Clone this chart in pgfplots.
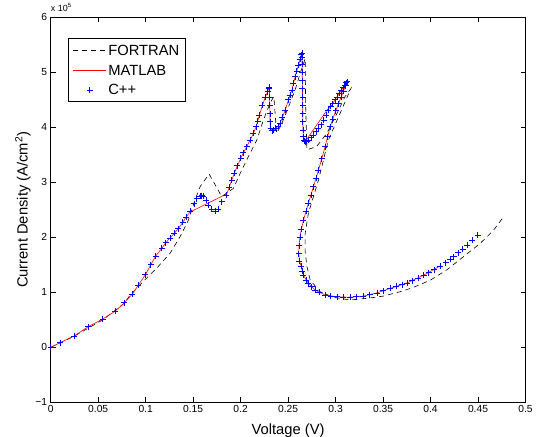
\documentclass[border=0pt]{standalone}
\usepackage{fontspec}
\setmainfont{Liberation Sans}
\usepackage{pgfplots}
\pgfplotsset{compat=1.18}
\begin{document}
\begin{tikzpicture}[x=1bp,y=1bp]
\begin{axis}[
  at={(0,0)}, anchor=south west,
  scale only axis, width=474.8bp, height=385bp,
  xmin=0, xmax=0.5, ymin=-1, ymax=6,
  xtick={0,0.05,0.1,0.15,0.2,0.25,0.3,0.35,0.4,0.45,0.5},
  xticklabels={0,0.05,0.1,0.15,0.2,0.25,0.3,0.35,0.4,0.45,0.5},
  ytick={-1,0,1,2,3,4,5,6},
  yticklabels={−1,0,1,2,3,4,5,6},
  tick align=inside, major tick length=5bp,
  tick style={black, line width=0.6bp},
  axis line style={line width=0.9bp},
  tick label style={font=\fontsize{10.3}{12}\selectfont},
  xlabel={Voltage (V)},
  ylabel={Current Density (A/cm\textsuperscript{2})},
  label style={font=\fontsize{14.8}{17}\selectfont},
  xlabel style={at={(axis description cs:0.5,-0.0738)}, anchor=center},
  ylabel style={at={(axis description cs:-0.0583,0.5)}, anchor=center},
  legend image code/.code={\draw[mark repeat=2,mark phase=2,#1] plot coordinates {(0bp,0bp) (16.5bp,0bp) (33bp,0bp)};},
  legend style={at={(axis description cs:0.0371,0.9455)}, anchor=north west,
    draw=black, line width=0.8bp, inner xsep=4bp, inner ysep=2bp,
    font=\fontsize{14.8}{17}\selectfont,
    nodes={text height=12bp, text depth=2bp, inner xsep=2bp, inner ysep=2.85bp},
    cells={anchor=west}, row sep=0bp},
]
\addplot[black, line width=0.6bp, dash pattern=on 5bp off 4bp] coordinates {
(0,0) (0.0246,0.20) (0.0548,0.50) (0.0776,0.80) (0.0836,0.95) (0.0976,1.20)
(0.1117,1.44) (0.1257,1.71) (0.1362,2.01) (0.145,2.31) (0.152,2.68) (0.1573,2.92)
(0.1668,3.15) (0.175,2.90) (0.180,2.74) (0.1924,2.89) (0.1995,3.16) (0.2082,3.47)
(0.2171,3.77) (0.224,4.13) (0.231,4.44) (0.2350,4.56) (0.2365,4.20) (0.2380,3.89)
(0.2434,4.07) (0.2504,4.37) (0.2574,4.68) (0.2627,4.98) (0.2680,5.25) (0.2685,4.40)
(0.2698,3.59) (0.2800,3.65) (0.2908,3.89) (0.3014,4.25) (0.3100,4.56) (0.3160,4.70)
(0.2925,3.77) (0.289,3.53) (0.282,3.04) (0.2767,2.74) (0.2714,2.44) (0.268,2.07)
(0.268,1.74) (0.2698,1.47) (0.2733,1.22) (0.2838,1.01) (0.2978,0.91) (0.3154,0.86)
(0.333,0.89) (0.350,0.93) (0.368,1.01) (0.382,1.09) (0.3997,1.22) (0.4173,1.41)
(0.4348,1.65) (0.4524,1.89) (0.4664,2.13) (0.4777,2.39)
};
\addlegendentry{FORTRAN}
\addplot[red, line width=0.6bp] coordinates {
(0,0) (0.0098,0.084) (0.0246,0.205) (0.0396,0.375) (0.0548,0.515) (0.0678,0.655)
(0.0776,0.81) (0.086,0.97) (0.0923,1.13) (0.0997,1.32) (0.1054,1.50) (0.1106,1.66)
(0.117,1.80) (0.1212,1.90) (0.1257,1.99) (0.130,2.07) (0.1345,2.16) (0.139,2.27)
(0.1426,2.37) (0.1468,2.46) (0.1855,2.79) (0.188,2.91) (0.1907,3.04) (0.1935,3.17)
(0.1966,3.30) (0.2002,3.44) (0.203,3.54) (0.2065,3.65) (0.210,3.77) (0.2135,3.89)
(0.2163,4.01) (0.2198,4.22) (0.2230,4.40) (0.2260,4.55) (0.2285,4.65) (0.2303,4.73)
(0.2310,4.10) (0.2315,3.98) (0.2330,3.94) (0.2345,3.95) (0.2395,4.02) (0.2416,4.07)
(0.2440,4.18) (0.2469,4.31) (0.2504,4.50) (0.254,4.68) (0.2574,4.92) (0.2609,5.13)
(0.2645,5.35) (0.2650,4.85) (0.2657,3.95) (0.2660,3.83) (0.268,3.74) (0.2908,4.31)
(0.2950,4.38) (0.2995,4.50) (0.304,4.62) (0.308,4.72) (0.3119,4.83)
(0.3085,4.66) (0.303,4.43) (0.297,4.15) (0.2943,4.01) (0.289,3.65) (0.282,3.22)
(0.2767,2.92) (0.2714,2.62) (0.2662,2.31) (0.2640,2.15) (0.2625,2.00) (0.2615,1.85)
(0.2613,1.70) (0.2620,1.57) (0.2638,1.47) (0.2662,1.31) (0.2714,1.16) (0.2785,1.04)
(0.289,0.95) (0.3014,0.92) (0.3154,0.91) (0.3294,0.93) (0.3435,0.99) (0.3575,1.07)
(0.3751,1.17) (0.3926,1.31) (0.4102,1.48)
};
\addlegendentry{MATLAB}
\addplot[blue, only marks, mark=+, mark size=3bp, line width=0.7bp] coordinates {
(0,0) (0.0098,0.084) (0.0246,0.205) (0.0396,0.375) (0.0548,0.515) (0.0678,0.655)
(0.0776,0.81) (0.086,0.97) (0.0923,1.13) (0.0997,1.32) (0.1054,1.50) (0.1106,1.66)
(0.117,1.80) (0.1212,1.90) (0.1257,1.99) (0.130,2.07) (0.1345,2.16) (0.139,2.27)
(0.1426,2.37) (0.1468,2.48) (0.151,2.61) (0.1538,2.70) (0.1573,2.75) (0.1590,2.76)
(0.1608,2.75) (0.1636,2.68) (0.166,2.58) (0.1697,2.51) (0.173,2.48) (0.1766,2.51)
(0.180,2.65) (0.1847,2.77) (0.188,2.91) (0.1907,3.04) (0.1935,3.17) (0.1966,3.30)
(0.2002,3.44) (0.203,3.54) (0.2065,3.65) (0.210,3.77) (0.2135,3.89) (0.2163,4.01)
(0.2180,4.11) (0.2198,4.22) (0.2230,4.40) (0.2260,4.55) (0.2285,4.65) (0.2303,4.73)
(0.2300,4.70) (0.2305,4.55) (0.2307,4.40) (0.2308,4.25) (0.2310,4.10) (0.2315,3.98)
(0.2330,3.94) (0.2345,3.95) (0.2370,3.98) (0.2395,4.02) (0.2416,4.07) (0.2440,4.18)
(0.2469,4.31) (0.2504,4.50) (0.2520,4.58) (0.254,4.68) (0.2555,4.80) (0.2574,4.92)
(0.259,5.02) (0.2609,5.13) (0.2625,5.24) (0.2640,5.32) (0.2645,5.35) (0.2648,5.28)
(0.2650,5.15) (0.2650,5.00) (0.2650,4.85) (0.2650,4.70) (0.2652,4.55) (0.2652,4.40)
(0.2653,4.25) (0.2655,4.10) (0.2657,3.95) (0.2660,3.83) (0.2670,3.76) (0.268,3.74)
(0.2695,3.75) (0.2714,3.77) (0.274,3.81) (0.2767,3.86) (0.2795,3.92) (0.282,3.98)
(0.2848,4.05) (0.2873,4.13) (0.290,4.22) (0.2925,4.31) (0.295,4.38) (0.297,4.43)
(0.2995,4.50) (0.3015,4.55) (0.304,4.62) (0.306,4.67) (0.308,4.72) (0.3095,4.77)
(0.311,4.81) (0.3119,4.83)
(0.3105,4.76) (0.3085,4.66) (0.306,4.55) (0.303,4.43) (0.300,4.30) (0.297,4.15)
(0.2943,4.01) (0.2915,3.83) (0.289,3.65) (0.2855,3.43) (0.282,3.22) (0.2795,3.07)
(0.2767,2.92) (0.274,2.77) (0.2714,2.62) (0.269,2.47) (0.2662,2.31) (0.2640,2.15)
(0.2625,2.00) (0.2615,1.85) (0.2613,1.70) (0.2620,1.57) (0.2638,1.47) (0.2650,1.39)
(0.2662,1.31) (0.2690,1.22) (0.2714,1.16) (0.275,1.10) (0.2785,1.04) (0.283,1.00)
(0.289,0.95) (0.295,0.93) (0.3014,0.92) (0.308,0.91) (0.3154,0.91) (0.322,0.92)
(0.3294,0.93) (0.336,0.96) (0.3435,0.99) (0.350,1.03) (0.3575,1.07) (0.364,1.11)
(0.370,1.14) (0.3751,1.17) (0.381,1.21) (0.387,1.26) (0.3926,1.31) (0.398,1.36)
(0.404,1.41) (0.4102,1.48) (0.416,1.54) (0.421,1.60) (0.4242,1.65) (0.429,1.72)
(0.434,1.79) (0.4384,1.86) (0.444,1.95) (0.4495,2.04)
};
\addlegendentry{C++}
\end{axis}
\node[anchor=base west, inner sep=0, font=\fontsize{9}{10}\selectfont] at (0bp,390.6bp) {x 10\textsuperscript{5}};
\pgfresetboundingbox
\path (-50.7bp,-34.7bp) rectangle (491.3bp,402.3bp);
\end{tikzpicture}
\end{document}
